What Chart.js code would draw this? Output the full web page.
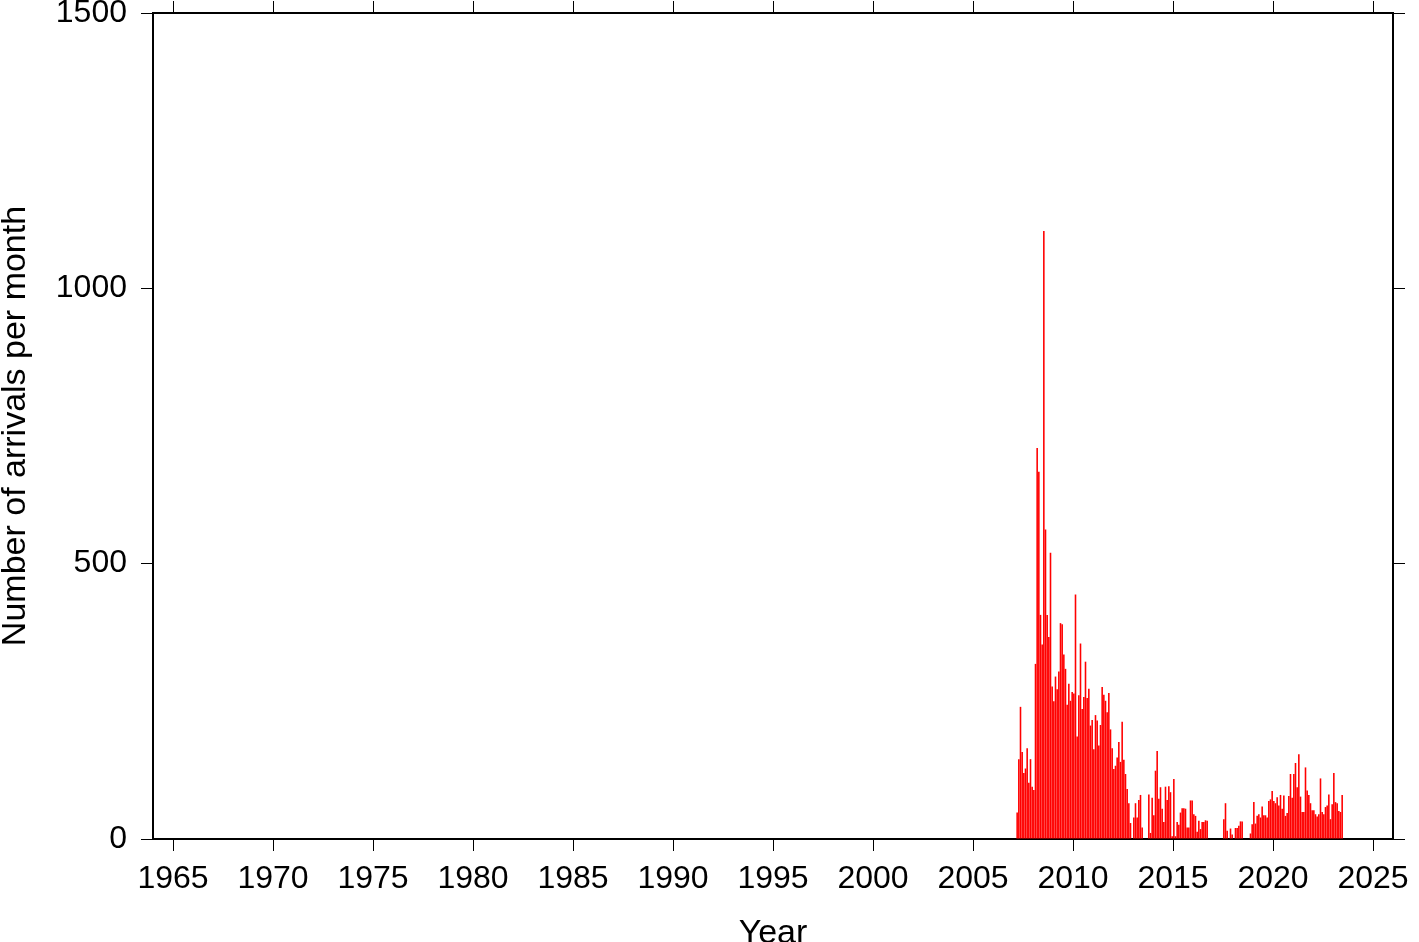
<!DOCTYPE html>
<html>
<head>
<meta charset="utf-8">
<script src="https://cdn.jsdelivr.net/npm/chart.js@4/dist/chart.umd.min.js"></script>
<style>
  html, body { margin: 0; padding: 0; background: #fff; }
  #chart { display: block; }
</style>
</head>
<body>
<canvas id="chart" width="1419" height="942"></canvas>
<script>
// monthly arrival counts, first bar = March 2007
const startYear = 2007;
const startMonth = 3;
const arrivals = [
    48, 145, 240, 158, 120, 128, 165, 102, 145, 95, 89, 318,
    710, 667, 407, 353, 1104, 562, 407, 367, 520, 277, 250, 295,
    272, 304, 392, 390, 335, 309, 244, 282, 251, 267, 264, 444,
    186, 261, 355, 236, 258, 322, 256, 273, 206, 216, 163, 225,
    215, 170, 207, 276, 262, 251, 230, 265, 199, 165, 127, 133,
    148, 176, 140, 213, 144, 118, 91, 65, 29, 0, 39, 65,
    39, 71, 80, 21, 0, 0, 0, 81, 11, 75, 43, 124,
    160, 73, 94, 55, 31, 95, 71, 96, 85, 5, 109, 5,
    31, 26, 48, 56, 56, 55, 21, 21, 70, 70, 45, 42,
    13, 33, 18, 31, 31, 34, 33, 0, 0, 0, 0, 0,
    0, 0, 0, 0, 36, 65, 15, 0, 19, 8, 0, 20,
    20, 24, 32, 32, 0, 0, 0, 0, 10, 27, 67, 28,
    42, 45, 39, 59, 43, 43, 39, 69, 72, 87, 69, 65,
    76, 61, 80, 55, 79, 42, 47, 78, 118, 75, 118, 138,
    94, 154, 77, 49, 49, 130, 88, 80, 65, 52, 52, 45,
    41, 45, 110, 49, 45, 58, 61, 81, 36, 63, 120, 67,
    65, 51, 49, 80
];

const xTicks = [1965, 1970, 1975, 1980, 1985, 1990, 1995, 2000, 2005, 2010, 2015, 2020, 2025];
const yTicks = [0, 500, 1000, 1500];
const xRange = [1964, 2026];
const yRange = [0, 1500];

const fontFamily = '"Liberation Sans", Arial, sans-serif';
const labelFont = { family: fontFamily, size: 32 };

// bar centred in the middle of its month
const points = arrivals.map((v, i) => ({
    x: startYear + (startMonth - 1 + i + 0.5) / 12,
    y: v
}));

function gridOpts() {
    return {
        drawOnChartArea: false,
        offset: false,
        drawTicks: true,
        tickLength: 12,
        tickWidth: 1,
        tickColor: '#000',
        color: '#000'
    };
}

const frame = { display: true, color: '#000', width: 2 };

function setTicks(list) {
    return scale => { scale.ticks = list.map(v => ({ value: v })); };
}

// pin the plot box: axes get fixed sizes and no label overhang padding
function fixSize(w, h) {
    return s => {
        if (w !== null) s.width = w;
        if (h !== null) s.height = h;
        s.paddingTop = 0;
        s.paddingBottom = 0;
        s.paddingLeft = 0;
        s.paddingRight = 0;
    };
}

new Chart(document.getElementById('chart'), {
    type: 'bar',
    data: {
        datasets: [{
            data: points,
            backgroundColor: '#ff0000',
            borderWidth: 0,
            barPercentage: 0.95,
            categoryPercentage: 1.0
        }]
    },
    options: {
        responsive: false,
        animation: false,
        layout: { padding: 0 },
        plugins: { legend: { display: false }, tooltip: { enabled: false } },
        scales: {
            x: {
                type: 'linear',
                position: 'bottom',
                min: xRange[0],
                max: xRange[1],
                offset: false,
                afterBuildTicks: setTicks(xTicks),
                afterFit: fixSize(null, 103),
                grid: gridOpts(),
                border: frame,
                ticks: {
                    font: labelFont, color: '#000', padding: 9,
                    maxRotation: 0, autoSkip: false,
                    callback: v => String(v)
                },
                title: {
                    display: true, text: 'Year', color: '#000', padding: 0,
                    font: { family: fontFamily, size: 34, lineHeight: 0.5 }
                }
            },
            x2: {
                type: 'linear',
                position: 'top',
                min: xRange[0],
                max: xRange[1],
                offset: false,
                afterBuildTicks: setTicks(xTicks),
                afterFit: fixSize(null, 13),
                grid: gridOpts(),
                border: frame,
                ticks: { display: false }
            },
            y: {
                type: 'linear',
                position: 'left',
                min: yRange[0],
                max: yRange[1],
                afterBuildTicks: setTicks(yTicks),
                afterFit: fixSize(153, null),
                grid: gridOpts(),
                border: frame,
                ticks: {
                    font: labelFont, color: '#000', padding: 14,
                    callback: v => String(v)
                },
                title: {
                    display: true, text: 'Number of arrivals per month', color: '#000', padding: 0,
                    font: { family: fontFamily, size: 34, lineHeight: 0.9 }
                }
            },
            y2: {
                type: 'linear',
                position: 'right',
                min: yRange[0],
                max: yRange[1],
                afterBuildTicks: setTicks(yTicks),
                afterFit: fixSize(26, null),
                grid: gridOpts(),
                border: frame,
                ticks: { display: false }
            }
        }
    }
});
</script>
</body>
</html>
